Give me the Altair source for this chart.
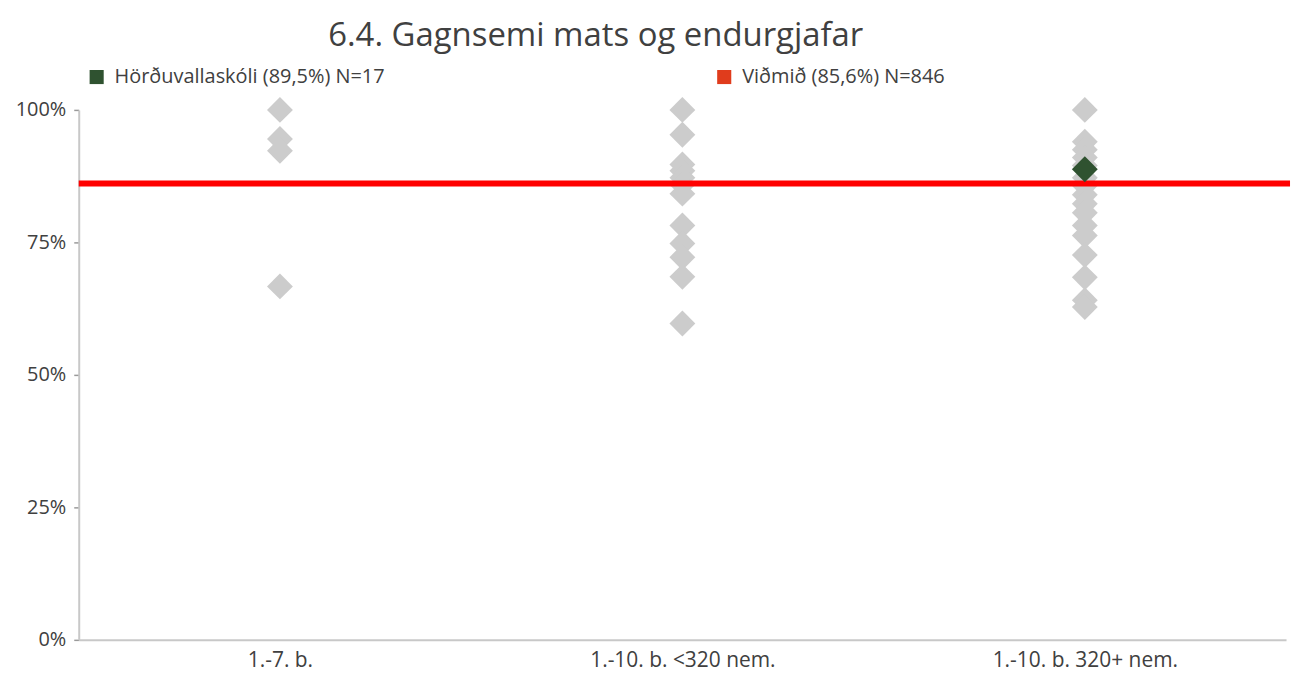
import altair as alt
import pandas as pd

categories = ["1.-7. b.", "1.-10. b. <320 nem.", "1.-10. b. 320+ nem."]

col1_values = [100, 94.5, 92.3, 66.7]
col2_values = [100, 95.3, 89.7, 88.5, 87.2, 85.9, 84.2, 78.2, 74.8, 72.2, 68.5, 59.7]
col3_values = [100, 94.0, 92.5, 91.0, 89.5, 87.2, 85.7, 84.0, 82.3, 80.6, 78.2, 76.3,
               72.6, 68.4, 64.1, 62.8]

school_name = "Hörðuvallaskóli (89,5%) N=17"
school_category = "1.-10. b. 320+ nem."
school_value = 88.8

benchmark_name = "Viðmið (85,6%) N=846"
benchmark_value = 86.1

FONT = "Open Sans"
TEXT = "#404040"
GRAY = "#cccccc"
GREEN = "#2f5230"
LEGEND_RED = "#e03c1c"
LINE_RED = "#ff0000"

rows = []
for cat, vals in zip(categories, [col1_values, col2_values, col3_values]):
    for v in vals:
        rows.append({"cat": cat, "val": v / 100})
others = pd.DataFrame(rows)
school = pd.DataFrame([{"cat": school_category, "val": school_value / 100, "series": school_name}])
bench = pd.DataFrame([{"val": benchmark_value / 100}])

x_enc = alt.X("cat:N", sort=categories, scale=alt.Scale(domain=categories, paddingInner=0, paddingOuter=0),
              axis=alt.Axis(title=None, labelAngle=0, ticks=False, labelFontSize=21, labelColor=TEXT,
                            labelFont=FONT, labelPadding=10, labelLimit=400,
                            domainColor="#c8c8c8", domainWidth=2))
y_scale = alt.Scale(domain=[0, 1], nice=False)
y_axis = alt.Axis(title=None, values=[0, 0.25, 0.5, 0.75, 1], format=".0%", grid=False,
                  labelFontSize=20, labelColor=TEXT, labelFont=FONT, tickColor="#9a9a9a",
                  tickSize=5, tickWidth=1.5, labelPadding=8, domainColor="#c8c8c8", domainWidth=2)

gray_layer = alt.Chart(others).mark_point(shape="diamond", filled=True, size=676, opacity=1).encode(
    x=x_enc,
    y=alt.Y("val:Q", scale=y_scale, axis=y_axis),
    color=alt.value(GRAY),
)

rule_layer = alt.Chart(bench).mark_rule(strokeWidth=6, color=LINE_RED).encode(
    y=alt.Y("val:Q", scale=y_scale),
    x=alt.value(0), x2=alt.value(1216),
)

school_layer = alt.Chart(school).mark_point(shape="diamond", filled=True, size=676, opacity=1).encode(
    x=alt.X("cat:N", sort=categories),
    y=alt.Y("val:Q", scale=y_scale),
    color=alt.Color("series:N",
                    scale=alt.Scale(domain=[school_name, benchmark_name], range=[GREEN, LEGEND_RED]),
                    legend=alt.Legend(title=None, orient="none", legendX=8, legendY=-43,
                                      direction="horizontal", symbolType="square", symbolSize=200,
                                      symbolStrokeWidth=0, labelFontSize=20, labelFont=FONT,
                                      labelColor=TEXT, columnPadding=330, labelOffset=8,
                                      labelLimit=500)),
)

chart = alt.layer(gray_layer, rule_layer, school_layer).properties(
    width=1212,
    height=532,
    background="white",
    title=alt.TitleParams("6.4. Gagnsemi mats og endurgjafar", fontSize=33, font=FONT,
                          color=TEXT, fontWeight="normal", anchor="middle", dx=-87, offset=14),
    autosize=alt.AutoSizeParams(type="none"),
    padding={"left": 71, "top": 101, "right": 10, "bottom": 40},
).configure_view(stroke=None)

chart.save("out.html", embed_options={"renderer": "svg", "actions": False})
